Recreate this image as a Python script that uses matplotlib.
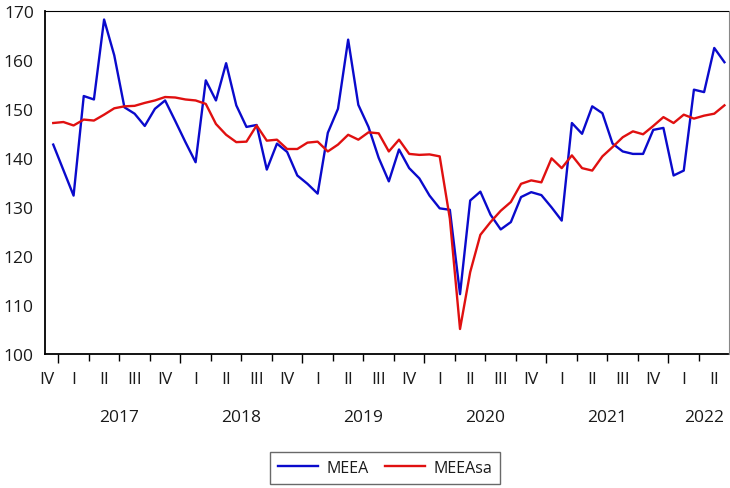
import numpy as np
import matplotlib
matplotlib.use("Agg")
import matplotlib.pyplot as plt

plt.rcParams['font.family'] = ['Open Sans', 'DejaVu Sans']

# monthly, Dec 2016 .. Jun 2022
meea = [142.7, 137.5, 132.3, 152.6, 151.9, 168.2, 160.9, 150.3, 149.0, 146.5,
        150.0, 151.7, 147.5, 143.2, 139.1, 155.8, 151.7, 159.3, 150.7, 146.3,
        146.7, 137.6, 142.9, 141.2, 136.4, 134.7, 132.7, 145.1, 150.0, 164.1,
        150.8, 146.3, 140.0, 135.2, 141.7, 137.9, 135.8, 132.3, 129.7, 129.4,
        112.2, 131.3, 133.1, 128.4, 125.4, 126.9, 132.0, 133.0, 132.4, 129.9,
        127.2, 147.1, 144.9, 150.5, 149.1, 142.9, 141.3, 140.8, 140.8, 145.7,
        146.1, 136.4, 137.4, 153.9, 153.4, 162.4, 159.5]
meeasa = [147.1, 147.3, 146.6, 147.8, 147.6, 148.8, 150.1, 150.5, 150.6, 151.2,
          151.7, 152.4, 152.3, 151.9, 151.7, 151.0, 146.9, 144.7, 143.2, 143.3,
          146.6, 143.5, 143.7, 141.8, 141.8, 143.1, 143.3, 141.3, 142.7, 144.7,
          143.7, 145.2, 145.0, 141.3, 143.7, 140.8, 140.6, 140.7, 140.3, 127.6,
          105.1, 116.7, 124.3, 126.9, 129.2, 131.0, 134.7, 135.4, 135.0, 139.9,
          137.9, 140.5, 137.9, 137.4, 140.3, 142.2, 144.2, 145.4, 144.8, 146.5,
          148.3, 147.1, 148.8, 148.0, 148.6, 149.0, 150.7]
years = ['2017', '2018', '2019', '2020', '2021', '2022']
quarters = ['I', 'II', 'III', 'IV']

t = np.arange(len(meea))
txt = '#1a1a1a'

fig = plt.figure(figsize=(7.30, 4.89), dpi=100)
ax = fig.add_axes([45 / 730, 134 / 489, 683.5 / 730, 343.3 / 489])

ax.plot(t, meea, color='#0A0ACC', lw=1.7, label='MEEA')
ax.plot(t, meeasa, color='#E01010', lw=1.7, label='MEEAsa')

ax.set_xlim(-0.81, 66.4)
ax.set_ylim(100, 170)
ax.set_yticks(np.arange(100, 171, 10))
ax.tick_params(axis='y', length=0, labelsize=12.5, pad=8, labelcolor=txt)

# quarter boundaries as ticks, year boundaries longer
qb = np.arange(0.5, 66.5, 3)
yb = [b for i, b in enumerate(qb) if i % 4 == 0]
ax.set_xticks([b for b in qb if b not in yb])
ax.set_xticks(yb, minor=True)
ax.set_xticklabels([])
ax.tick_params(axis='x', which='major', length=4.7, width=1, direction='out')
ax.tick_params(axis='x', which='minor', length=6.5, width=1, direction='out')

# quarter labels
tr = ax.get_xaxis_transform()
ax.text(-0.6, -25 / 343.3, 'IV', transform=tr, ha='center', va='center',
        fontsize=12.5, color=txt, clip_on=False)
for i, c in enumerate(np.arange(2, 66, 3)):
    ax.text(c, -25 / 343.3, quarters[i % 4], transform=tr, ha='center',
            va='center', fontsize=12.5, color=txt, clip_on=False)

# year labels
for i, y in enumerate(years):
    c = 6.5 + 12 * i if i < 5 else 64
    ax.text(c, -63 / 343.3, y, transform=tr, ha='center', va='center',
            fontsize=12.5, color=txt, clip_on=False)

for s in ['left', 'bottom', 'top']:
    ax.spines[s].set_color('black')
ax.spines['right'].set_color('#888888')
ax.spines['left'].set_linewidth(1.3)
ax.spines['bottom'].set_linewidth(1.3)

leg = fig.legend(loc='center', bbox_to_anchor=(385 / 730, 20 / 489), ncol=2,
                 frameon=True, fancybox=False, fontsize=11.5, handlelength=2.5,
                 columnspacing=1.0, borderpad=0.5, handletextpad=0.55)
leg.get_frame().set_edgecolor('#444444')
leg.get_frame().set_linewidth(1.0)
for tx in leg.get_texts():
    tx.set_color(txt)

fig.savefig('out.png', dpi=100)
